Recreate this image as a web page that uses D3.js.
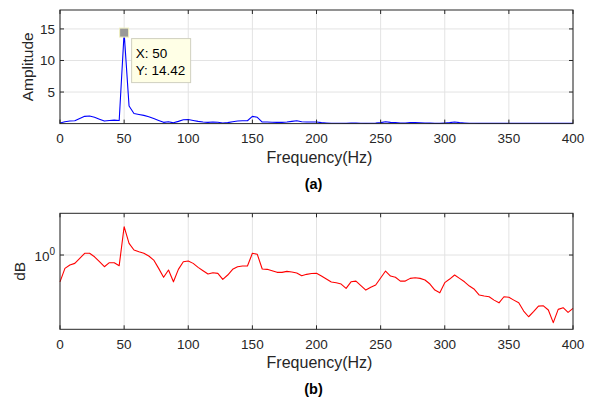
<!DOCTYPE html>
<html>
<head>
<meta charset="utf-8">
<script src="https://cdn.jsdelivr.net/npm/d3@7"></script>
<style>
  body { margin: 0; background: #fff; }
  svg text { font-family: "Liberation Sans", Arial, Helvetica, sans-serif; fill: #262626; }
</style>
</head>
<body>
<script>
// frequency grid step (Hz): 50 Hz lands on the 13th bin
const FREQ_STEP = 50 / 13;

// (a) amplitude spectrum
const amplitude = [
  0.1, 0.3, 0.4, 0.45, 0.8, 1.15, 1.2, 1.0, 0.7, 0.4,
  0.5, 0.55, 0.5, 14.42, 2.8, 1.6, 1.45, 1.3, 1.1, 0.8,
  0.5, 0.2, 0.3, 0.12, 0.35, 0.6, 0.65, 0.5, 0.35, 0.25,
  0.2, 0.25, 0.22, 0.1, 0.15, 0.3, 0.4, 0.45, 0.45, 1.15,
  1.0, 0.25, 0.25, 0.22, 0.2, 0.2, 0.25, 0.35, 0.45, 0.3,
  0.25, 0.25, 0.25, 0.15, 0.1, 0.06, 0.06, 0.05, 0.04, 0.08,
  0.1, 0.06, 0.04, 0.05, 0.08, 0.15, 0.3, 0.2, 0.18, 0.1,
  0.1, 0.15, 0.15, 0.14, 0.1, 0.07, 0.04, 0.03, 0.1, 0.15,
  0.25, 0.15, 0.1, 0.06, 0.05, 0.03, 0.04, 0.05, 0.04, 0.03,
  0.05, 0.04, 0.03, 0.03, 0.04, 0.03, 0.03, 0.04, 0.05, 0.03,
  0.03, 0.04, 0.03, 0.03, 0.03
];

// (b) log-scale spectrum
const logSpectrum = [
  0.744, 0.863, 0.895, 0.912, 0.964, 1.019, 1.019, 0.981, 0.929, 0.879,
  0.919, 0.919, 0.889, 1.367, 1.138, 1.057, 1.037, 1.019, 0.989, 0.946,
  0.863, 0.782, 0.848, 0.744, 0.854, 0.929, 0.936, 0.912, 0.873, 0.841,
  0.811, 0.822, 0.817, 0.765, 0.802, 0.854, 0.879, 0.886, 0.886, 1.019,
  1.008, 0.857, 0.854, 0.841, 0.826, 0.826, 0.835, 0.829, 0.820, 0.796,
  0.808, 0.815, 0.817, 0.793, 0.767, 0.742, 0.737, 0.726, 0.692, 0.744,
  0.750, 0.714, 0.679, 0.700, 0.718, 0.776, 0.838, 0.793, 0.782, 0.750,
  0.750, 0.773, 0.778, 0.773, 0.759, 0.726, 0.679, 0.659, 0.737, 0.767,
  0.802, 0.773, 0.744, 0.710, 0.685, 0.643, 0.636, 0.631, 0.608, 0.590,
  0.631, 0.627, 0.608, 0.590, 0.539, 0.506, 0.535, 0.569, 0.571, 0.545,
  0.474, 0.549, 0.559, 0.531, 0.555
];

const xTicks = [0, 50, 100, 150, 200, 250, 300, 350, 400];
const ampTicks = [5, 10, 15];
const logTicks = [1];

const W = 592, H = 402;
const svg = d3.select('body').append('svg')
  .attr('width', W)
  .attr('height', H);

const AXIS = '#262626';
const GRID = '#e3e3e3';
const TICK_FONT = '13.5px';

function drawPanel(cfg) {
  const x = d3.scaleLinear().domain([0, 400]).range([cfg.left, cfg.right]);
  const y = cfg.y;
  const g = svg.append('g');

  // grid
  g.selectAll('.vg').data(xTicks).enter().append('line')
    .attr('x1', d => x(d)).attr('x2', d => x(d))
    .attr('y1', cfg.top).attr('y2', cfg.bottom)
    .attr('stroke', GRID).attr('stroke-width', 1);
  g.selectAll('.hg').data(cfg.yTicks).enter().append('line')
    .attr('x1', cfg.left).attr('x2', cfg.right)
    .attr('y1', d => y(d)).attr('y2', d => y(d))
    .attr('stroke', GRID).attr('stroke-width', 1);

  // line
  const line = d3.line()
    .x((d, i) => x(i * FREQ_STEP))
    .y(d => y(d));
  g.append('path')
    .datum(cfg.values)
    .attr('d', line)
    .attr('fill', 'none')
    .attr('stroke', cfg.color)
    .attr('stroke-width', 1.1)
    .attr('stroke-linejoin', 'round');

  // tick marks (inside, mirrored)
  const TL = 4;
  xTicks.forEach(t => {
    g.append('line').attr('x1', x(t)).attr('x2', x(t))
      .attr('y1', cfg.bottom).attr('y2', cfg.bottom - TL)
      .attr('stroke', AXIS);
    g.append('line').attr('x1', x(t)).attr('x2', x(t))
      .attr('y1', cfg.top).attr('y2', cfg.top + TL)
      .attr('stroke', AXIS);
  });
  cfg.yTicks.forEach(t => {
    g.append('line').attr('x1', cfg.left).attr('x2', cfg.left + TL)
      .attr('y1', y(t)).attr('y2', y(t)).attr('stroke', AXIS);
    g.append('line').attr('x1', cfg.right).attr('x2', cfg.right - TL)
      .attr('y1', y(t)).attr('y2', y(t)).attr('stroke', AXIS);
  });

  // box
  g.append('rect')
    .attr('x', cfg.left).attr('y', cfg.top)
    .attr('width', cfg.right - cfg.left)
    .attr('height', cfg.bottom - cfg.top)
    .attr('fill', 'none').attr('stroke', AXIS).attr('stroke-width', 1);

  // x tick labels
  g.selectAll('.xl').data(xTicks).enter().append('text')
    .attr('x', d => x(d)).attr('y', cfg.bottom + 19.5)
    .attr('text-anchor', 'middle')
    .style('font-size', TICK_FONT)
    .text(d => d);

  // x label
  g.append('text')
    .attr('x', (cfg.left + cfg.right) / 2 + 3).attr('y', cfg.bottom + 39)
    .attr('text-anchor', 'middle')
    .style('font-size', '16px')
    .text('Frequency(Hz)');

  // caption
  g.append('text')
    .attr('x', (cfg.left + cfg.right) / 2 - 3).attr('y', cfg.bottom + 65)
    .attr('text-anchor', 'middle')
    .style('font-size', '14.5px')
    .style('font-weight', 'bold')
    .style('fill', '#000')
    .text(cfg.caption);

  // y label
  g.append('text')
    .attr('transform', `translate(${cfg.yLabelX},${(cfg.top + cfg.bottom) / 2}) rotate(-90)`)
    .attr('text-anchor', 'middle')
    .style('font-size', '15.5px')
    .text(cfg.yLabel);

  return { g, x, y };
}

// panel (a)
const yA = d3.scaleLinear().domain([0, 18]).range([123.6, 10]);
const pa = drawPanel({
  left: 60, right: 573, top: 10, bottom: 123.6,
  y: yA, yTicks: ampTicks, values: amplitude, color: '#0000ff',
  caption: '(a)', yLabel: 'Amplitude', yLabelX: 33
});
pa.g.selectAll('.yl').data(ampTicks).enter().append('text')
  .attr('x', 55).attr('y', d => yA(d) + 5)
  .attr('text-anchor', 'end')
  .style('font-size', TICK_FONT)
  .text(d => d);

// data tip at the 50 Hz peak
const peakIdx = amplitude.indexOf(d3.max(amplitude));
const px = pa.x(peakIdx * FREQ_STEP), py = yA(amplitude[peakIdx]);
pa.g.append('rect')
  .attr('x', px - 4.5).attr('y', py - 4.5)
  .attr('width', 9).attr('height', 9)
  .attr('fill', '#999999').attr('stroke', '#f0f0c0').attr('stroke-width', 1);
pa.g.append('rect')
  .attr('x', px + 7.5).attr('y', py + 6)
  .attr('width', 59).attr('height', 44)
  .attr('fill', '#ffffe6').attr('stroke', '#d0d0c0').attr('stroke-width', 1);
pa.g.append('text')
  .attr('x', px + 11.5).attr('y', py + 25.5)
  .style('font-size', '13.5px').style('fill', '#000')
  .text('X: ' + Math.round(peakIdx * FREQ_STEP));
pa.g.append('text')
  .attr('x', px + 11.5).attr('y', py + 42.5)
  .style('font-size', '13.5px').style('fill', '#000')
  .text('Y: ' + amplitude[peakIdx].toFixed(2));

// panel (b)
const yB = d3.scaleLog().domain([Math.pow(10, -0.356), Math.pow(10, 0.2)]).range([329.3, 213.3]);
const pb = drawPanel({
  left: 60, right: 573, top: 213.3, bottom: 329.3,
  y: yB, yTicks: logTicks, values: logSpectrum, color: '#ff0000',
  caption: '(b)', yLabel: 'dB', yLabelX: 25
});
logTicks.forEach(t => {
  const lab = pb.g.append('text')
    .attr('x', 55).attr('y', yB(t) + 6)
    .attr('text-anchor', 'end')
    .style('font-size', TICK_FONT);
  lab.append('tspan').text('10');
  lab.append('tspan').attr('dy', -6).style('font-size', '10px').text(Math.round(Math.log10(t)));
});
</script>
</body>
</html>
